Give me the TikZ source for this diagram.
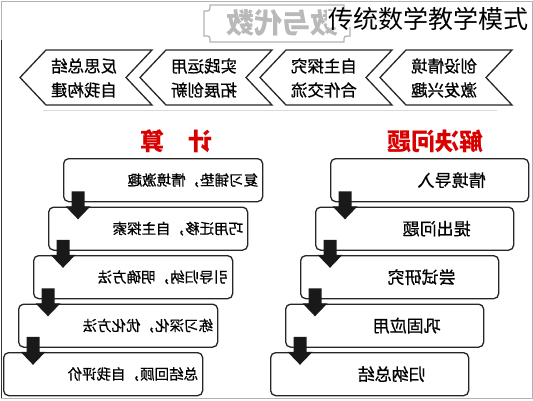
\documentclass[tikz,border=0pt]{standalone}
\usepackage{fontspec}
\newfontfamily\cjk{Noto Sans CJK SC}
\newfontfamily\cjkm[FakeBold=0.7]{Noto Sans CJK SC}
\usetikzlibrary{calc}
\newcommand{\flipx}[1]{\scalebox{-1}[1]{#1}}
\newcommand{\fsz}[1]{\fontsize{#1}{#1}\selectfont}
\newcommand{\barrow}[1]{\fill[downarrow] ($(#1.south west)+(15,0)$) ++(-6.5,-11) -- ++(13,0) -- ++(0,15) -- ++(6,0) -- ++(-12.5,13) -- ++(-12.5,-13) -- ++(6,0) -- cycle;}
\begin{document}
\begin{tikzpicture}[x=1pt,y=-1pt,
 chev/.style={draw=black!85, line width=1.3pt, line join=miter},
 chevtext/.style={font=\cjkm\fontsize{16.5}{24}\selectfont, align=center, inner sep=0},
 stepbox/.style={draw=black!85, line width=1.3pt, rounded corners=5pt, minimum height=43pt, inner sep=0, anchor=north west},
 ltext/.style={font=\cjkm\fsz{14.5}, inner sep=0, anchor=east},
 rtext/.style={font=\cjkm\fsz{17}, inner sep=0},
 head/.style={font=\cjk\bfseries\fsz{24}, text=red!85!black, inner sep=0},
 downarrow/.style={fill=black!90}
]
\useasboundingbox (0,0) rectangle (533,400);
% frame
\draw[gray!60, line width=1pt] (1,1) rectangle (532,398);
\draw[black!80, line width=1.2pt] (1.5,40) -- (1.5,398);
\draw[gray!30, line width=0.8pt] (43,110) -- (497,110);
% banner
\draw[gray!60, line width=1.2pt] (210,5) -- (344,5) .. controls (344,11) .. (350,11) -- (350,36) .. controls (344,36) .. (344,42) -- (210,42) .. controls (210,36) .. (204,36) -- (204,11) .. controls (210,11) .. (210,5) -- cycle;
\node[font=\cjk\bfseries\fsz{28}, text=gray!55, inner sep=0] (ban) at (282,23) {\flipx{数与代数}};
\node[font=\cjk\fsz{25}, fill=white, inner xsep=1pt, inner ysep=-4pt, anchor=west] (title) at (327,19) {传统数学教学模式};
% chevrons
\foreach \t/\a/\b [count=\i] in {20/反思总结/自我构建, 140/实践运用/拓展创新, 260/自主探究/合作交流, 380/创设情境/激发兴趣}{
  \draw[chev] (\t,77.5) -- (\t+26,50) -- (\t+132,50) -- (\t+106,77.5) -- (\t+132,105) -- (\t+26,105) -- cycle;
  \node[chevtext] (c\i) at (\t+64,78) {\flipx{\a}\\\flipx{\b}};
}
% headings
\node[head] (hl) at (176,141) {\flipx{计　算}};
\node[head] (hr) at (435,141) {\flipx{解决问题}};
% left column
\foreach \i/\x/\y/\s in {1/63/158/复习铺垫，情境激趣, 2/48/206.5/巧用迁移，自主探索, 3/33/255/引导归纳，明确方法, 4/18/303.5/练习深化，优化方法, 5/3/352/总结回顾，自我评价}{
  \node[stepbox, minimum width=199pt] (L\i) at (\x,\y) {};
  \node[ltext] (L\i t) at ($(L\i.east)+(-5,0)$) {\flipx{\s}};
}
% right column
\foreach \i/\x/\y/\s in {1/330/158/情境导入, 2/315/206.5/提出问题, 3/300/255/尝试研究, 4/285/303.5/巩固应用, 5/270/352/归纳总结}{
  \node[stepbox, minimum width=198pt] (R\i) at (\x,\y) {};
  \node[rtext] (R\i t) at ($(R\i.center)+(22,0)$) {\flipx{\s}};
}
% arrows
\barrow{L1}\barrow{L2}\barrow{L3}\barrow{L4}
\barrow{R1}\barrow{R2}\barrow{R3}\barrow{R4}
\end{tikzpicture}
\end{document}
